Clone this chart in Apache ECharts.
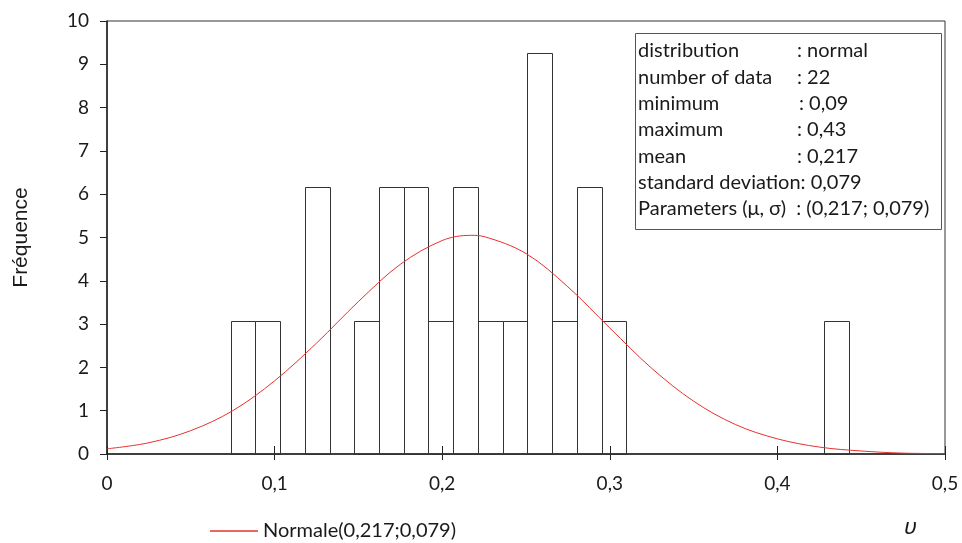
<!DOCTYPE html>
<html>
<head>
<meta charset="utf-8">
<script src="https://cdn.jsdelivr.net/npm/echarts@6/dist/echarts.min.js"></script>
<style>html,body{margin:0;padding:0;background:#fff}#c{width:962px;height:543px}</style>
</head>
<body>
<div id="c"></div>
<script>
// Histogram bins (left edge, right edge, density height)
const binLeft  = [0.0739, 0.0884, 0.1181, 0.1476, 0.1623, 0.1770, 0.1918, 0.2065, 0.2212, 0.2360, 0.2507, 0.2654, 0.2802, 0.2951, 0.4277];
const binRight = [0.0884, 0.1032, 0.1328, 0.1623, 0.1770, 0.1918, 0.2065, 0.2212, 0.2360, 0.2507, 0.2654, 0.2802, 0.2951, 0.3096, 0.4425];
const binHeight = [3.08, 3.08, 6.16, 3.08, 6.16, 6.16, 3.08, 6.16, 3.08, 3.08, 9.25, 3.08, 6.16, 3.08, 3.08];

// Fitted normal curve
const curveX = [0, 0.025, 0.05, 0.075, 0.1, 0.125, 0.15, 0.175, 0.2, 0.217, 0.225, 0.25, 0.275, 0.3, 0.325, 0.35, 0.375, 0.4, 0.425, 0.45, 0.475, 0.5];
const curveY = [0.12, 0.26, 0.54, 1.00, 1.69, 2.56, 3.52, 4.38, 4.93, 5.05, 5.02, 4.63, 3.86, 2.91, 1.98, 1.22, 0.68, 0.35, 0.16, 0.07, 0.02, 0.01];

const seriesName = 'Normale(0,217;0,079)';
const yTitle = 'Fréquence';
const xTitle = 'υ';

const infoLabels = ['distribution', 'number of data', 'minimum', 'maximum', 'mean', 'standard deviation: 0,079', 'Parameters (μ, σ)  : (0,217; 0,079)'];
const infoValues = [': normal', ': 22', ': 0,09', ': 0,43', ': 0,217', '', ''];

const FONT = 'Lato';
const chart = echarts.init(document.getElementById('c'), null, {renderer: 'canvas'});

const barData = binLeft.map((l, i) => [l, binRight[i], binHeight[i]]);
const lineData = curveX.map((x, i) => [x, curveY[i]]);

const fmtX = v => (v === 0 ? '0' : (+v.toFixed(1)).toString().replace('.', ','));

const infoGraphics = [{
  type: 'rect', left: 635, top: 33,
  shape: {width: 306, height: 196},
  style: {fill: '#fff', stroke: '#555', lineWidth: 1}, z: 10
}];
infoLabels.forEach((t, i) => {
  const y = 51 + i * 26.3;
  infoGraphics.push({type: 'text', x: 638, y: y, z: 11,
    style: {text: t, font: '20px ' + FONT, fill: '#1a1a1a', textVerticalAlign: 'middle', verticalAlign: 'middle'}});
  if (infoValues[i]) {
    infoGraphics.push({type: 'text', x: i === 2 ? 799 : 797, y: y, z: 11,
      style: {text: infoValues[i], font: '20px ' + FONT, fill: '#1a1a1a', textVerticalAlign: 'middle', verticalAlign: 'middle'}});
  }
});
infoGraphics.push({type: 'text', x: 904, y: 528, z: 11,
  style: {text: xTitle, font: 'italic 22px "Noto Sans"', fill: '#1a1a1a', verticalAlign: 'middle', textVerticalAlign: 'middle'}});

chart.setOption({
  animation: false,
  backgroundColor: '#fff',
  grid: {left: 107, right: 17, top: 21, bottom: 89, show: true, borderColor: '#333', borderWidth: 1, backgroundColor: 'transparent'},
  legend: {
    data: [{name: seriesName, icon: 'rect'}], left: 205, top: 516, itemWidth: 48, itemHeight: 1.5,
    textStyle: {fontFamily: FONT, fontSize: 20, color: '#1a1a1a'}
  },
  xAxis: [{
    type: 'value', min: 0, max: 0.5, interval: 0.1,
    axisLine: {lineStyle: {color: '#222', width: 1.5}},
    axisTick: {show: true, inside: false, length: 6, lineStyle: {color: '#222'}},
    splitLine: {show: false},
    axisLabel: {formatter: fmtX, fontFamily: FONT, fontSize: 19, color: '#1a1a1a', margin: 20}
  }, {
    type: 'value', min: 0, max: 0.5, interval: 0.1, position: 'bottom',
    axisLine: {show: false},
    axisTick: {show: true, inside: true, length: 8, lineStyle: {color: '#222'}},
    splitLine: {show: false}, axisLabel: {show: false}
  }],
  yAxis: {
    type: 'value', min: 0, max: 10, interval: 1,
    name: yTitle, nameLocation: 'middle', nameGap: 75, nameRotate: 90,
    nameTextStyle: {fontFamily: 'Liberation Sans', fontSize: 21, color: '#1a1a1a'},
    axisLine: {show: true, lineStyle: {color: '#222', width: 1.5}},
    axisTick: {show: true, length: 7, lineStyle: {color: '#222'}},
    splitLine: {show: false},
    axisLabel: {fontFamily: FONT, fontSize: 19, color: '#1a1a1a', margin: 18}
  },
  graphic: infoGraphics,
  series: [{
    type: 'custom', name: 'hist', xAxisIndex: 0, yAxisIndex: 0,
    data: barData,
    encode: {x: [0, 1], y: 2},
    renderItem: function (params, api) {
      const p0 = api.coord([api.value(0), api.value(2)]);
      const p1 = api.coord([api.value(1), 0]);
      return {type: 'rect',
        shape: {x: Math.round(p0[0]) + 0.5, y: Math.round(p0[1]) + 0.5, width: Math.round(p1[0]) - Math.round(p0[0]), height: Math.round(p1[1]) - Math.round(p0[1])},
        style: {fill: 'none', stroke: '#333', lineWidth: 1}};
    },
    z: 2
  }, {
    type: 'line', name: seriesName, xAxisIndex: 0, yAxisIndex: 0,
    data: lineData, smooth: 0.35, symbol: 'none', showSymbol: false,
    lineStyle: {color: '#e5322d', width: 1},
    itemStyle: {color: '#e5322d'},
    z: 3
  }]
});
</script>
</body>
</html>
